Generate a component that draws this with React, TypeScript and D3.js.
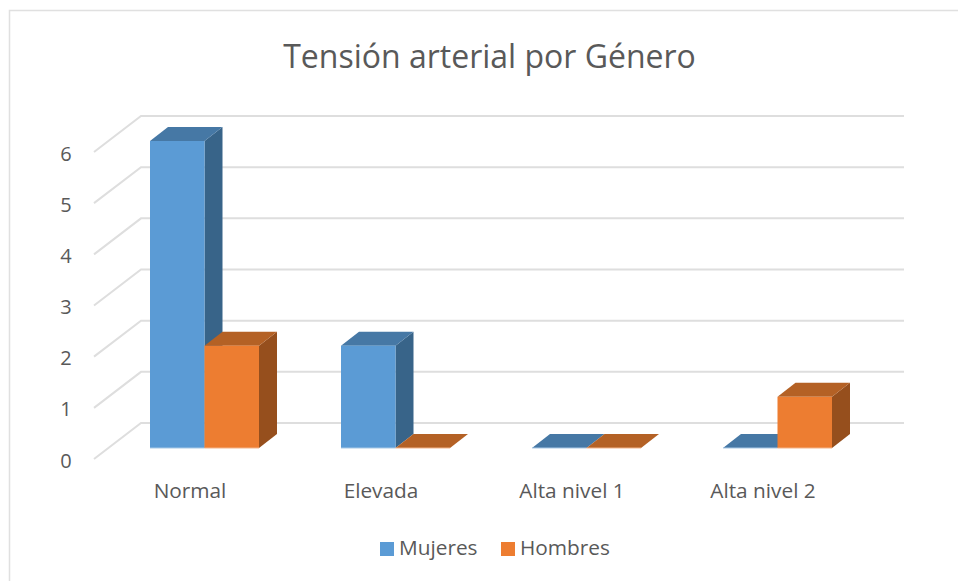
import React from 'react';
import * as d3 from 'd3';

const categories = ['Normal', 'Elevada', 'Alta nivel 1', 'Alta nivel 2'];
const seriesNames = ['Mujeres', 'Hombres'];
const mujeres = [6, 2, 0, 0];
const hombres = [2, 0, 0, 1];
const yTicks = [0, 1, 2, 3, 4, 5, 6];

const seriesValues = [mujeres, hombres];
const frontColors = ['#5b9bd5', '#ed7d31'];
const topColors = ['#4678a5', '#b46125'];
const sideColors = ['#386489', '#964f1d'];
const edgeColors = ['#a9c9e6', '#f3b48a'];

const width = 958;
const height = 581;
const fontFamily = "'Open Sans', sans-serif";
const textColor = '#595959';
const gridColor = '#dedede';

// oblique offset of the 3D walls
const depthX = 47;
const depthY = -36;
const barDepthX = 18;
const barDepthY = -14;

const xScale = d3.scaleBand<string>().domain(categories).range([94, 858]);
const seriesScale = d3.scaleBand<string>().domain(seriesNames).range([56, 165]);
const yScale = d3.scaleLinear().domain([0, 6]).range([459, 152]);
const barBase = 448;
const unit = yScale(0) - yScale(1);

const poly = (pts: [number, number][]) => d3.line()(pts) + 'Z';

const App = () => {
  const barWidth = seriesScale.bandwidth();
  return (
    <svg
      width={width}
      height={height}
      style={{ position: 'absolute', left: 0, top: 0, background: '#fff' }}
    >
      <path d="M9.5,581V10.5H958" fill="none" stroke="#e0e0e0" strokeWidth={1.5} />
      <text x={489.5} y={68} textAnchor="middle" fontFamily={fontFamily} fontSize={32} fill={textColor}>
        Tensión arterial por Género
      </text>

      {yTicks.map((t) => (
        <g key={t}>
          <path
            d={d3.line()([
              [94, yScale(t)],
              [94 + depthX, yScale(t) + depthY],
              [904, yScale(t) + depthY],
            ]) as string}
            fill="none"
            stroke={gridColor}
            strokeWidth={2}
          />
          <text x={66} y={yScale(t) + 8.5} textAnchor="middle" fontFamily={fontFamily} fontSize={20} fill={textColor}>
            {t}
          </text>
        </g>
      ))}

      {categories.map((c, i) => (
        <g key={c}>
          {seriesNames.map((s, k) => {
            const v = seriesValues[k][i];
            const x0 = (xScale(c) as number) + (seriesScale(s) as number);
            const x1 = x0 + barWidth;
            const top = barBase - v * unit;
            return (
              <g key={s}>
                {v > 0 && (
                  <path
                    d={poly([
                      [x1, top],
                      [x1 + barDepthX, top + barDepthY],
                      [x1 + barDepthX, barBase + barDepthY],
                      [x1, barBase],
                    ])}
                    fill={sideColors[k]}
                  />
                )}
                <path
                  d={poly([
                    [x0, top],
                    [x0 + barDepthX, top + barDepthY],
                    [x1 + barDepthX, top + barDepthY],
                    [x1, top],
                  ])}
                  fill={topColors[k]}
                />
                {v > 0 && (
                  <rect x={x0} y={top} width={barWidth} height={v * unit} fill={frontColors[k]} />
                )}
                <line x1={x0} x2={x1} y1={barBase} y2={barBase} stroke={edgeColors[k]} strokeWidth={1} />
              </g>
            );
          })}
          <text
            x={(xScale(c) as number) + xScale.bandwidth() / 2 + 0.5}
            y={498}
            textAnchor="middle"
            fontFamily={fontFamily}
            fontSize={20.8}
            fill={textColor}
          >
            {c}
          </text>
        </g>
      ))}

      {seriesNames.map((s, k) => {
        const lx = [380, 501][k];
        return (
          <g key={s}>
            <rect x={lx} y={542} width={14} height={14} fill={frontColors[k]} />
            <text x={lx + 19} y={555} fontFamily={fontFamily} fontSize={20.8} fill={textColor}>
              {s}
            </text>
          </g>
        );
      })}
    </svg>
  );
};

export default App;
